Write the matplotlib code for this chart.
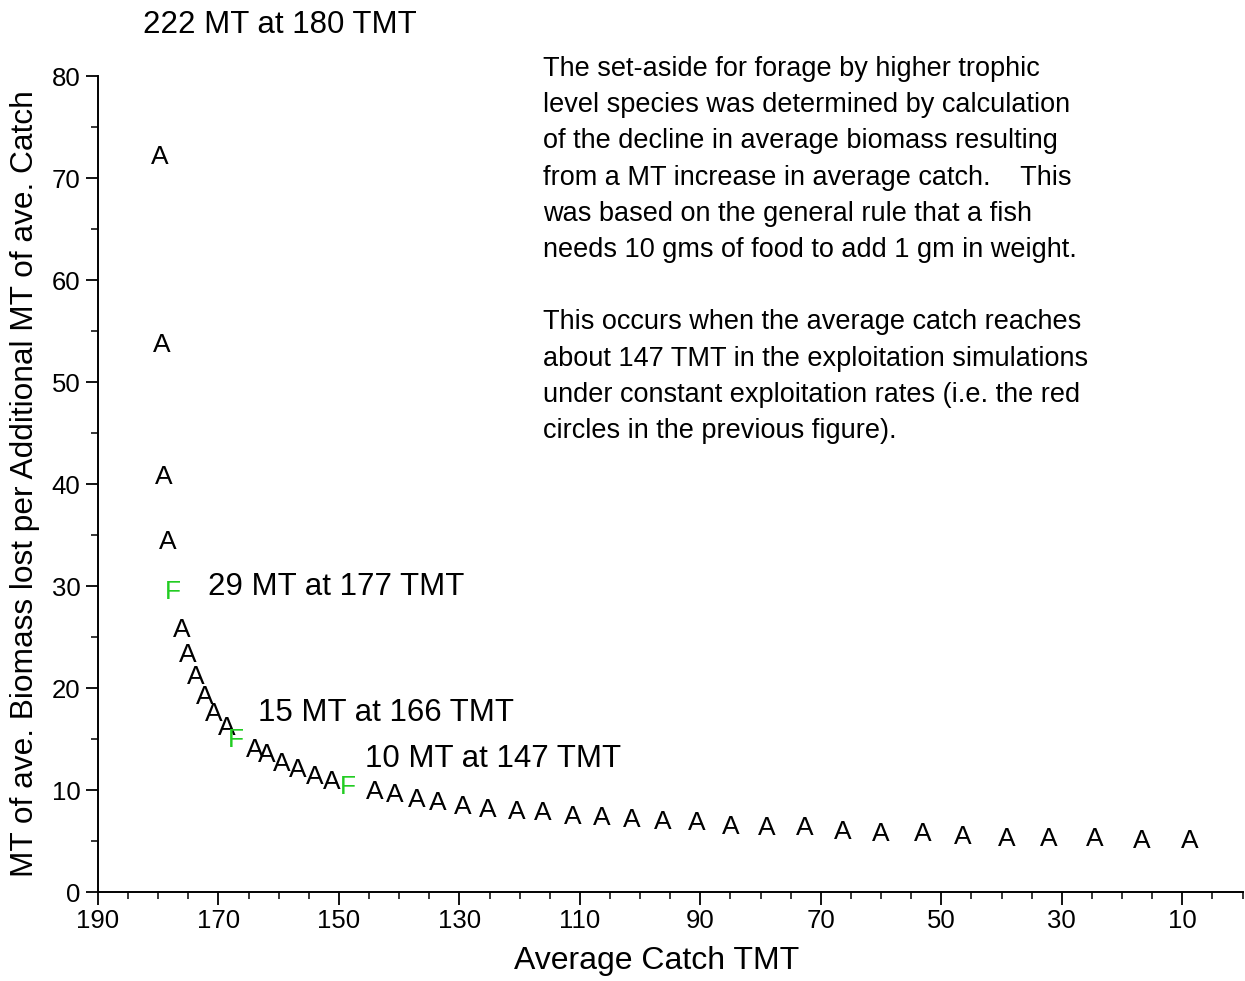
import matplotlib
matplotlib.use("Agg")
import matplotlib.pyplot as plt
from matplotlib.ticker import MultipleLocator

plt.rcParams["font.family"] = ["Liberation Sans", "DejaVu Sans"]

# --- DATA ---
# "A" points: average catch (TMT) vs biomass lost per additional MT of catch
catch_a = [179.7, 179.4, 179.05, 178.4,
           176.1, 175.1, 173.7, 172.2, 170.8, 168.6,
           164.0, 162.0, 159.5, 156.8, 154.0, 151.2,
           144.0, 140.7, 137.1, 133.6, 129.4, 125.3, 120.5, 116.2, 111.2,
           106.4, 101.4, 96.3, 90.6, 85.0, 78.9, 72.7, 66.4, 60.1, 53.1,
           46.5, 39.2, 32.1, 24.6, 16.8, 8.7]
lost_a = [72.1, 53.6, 40.7, 34.3,
          25.7, 23.2, 21.1, 19.1, 17.5, 16.1,
          13.9, 13.4, 12.6, 12.0, 11.3, 10.8,
          9.8, 9.5, 9.0, 8.7, 8.3, 8.0, 7.8, 7.75, 7.35,
          7.25, 7.05, 6.85, 6.75, 6.35, 6.25, 6.25, 5.9, 5.7, 5.7,
          5.4, 5.2, 5.2, 5.2, 5.0, 5.0]

# "F" points (highlighted levels)
catch_f = [177.6, 167.1, 148.5]
lost_f = [29.4, 14.9, 10.3]

notes = ["29 MT at 177 TMT", "15 MT at 166 TMT", "10 MT at 147 TMT"]
note_x = [171.7, 163.5, 145.7]
note_y = [29.9, 17.6, 13.0]

top_note = "222 MT at 180 TMT"

info_text = ("The set-aside for forage by higher trophic\n"
             "level species was determined by calculation\n"
             "of the decline in average biomass resulting\n"
             "from a MT increase in average catch.    This\n"
             "was based on the general rule that a fish\n"
             "needs 10 gms of food to add 1 gm in weight.\n"
             "\n"
             "This occurs when the average catch reaches\n"
             "about 147 TMT in the exploitation simulations\n"
             "under constant exploitation rates (i.e. the red\n"
             "circles in the previous figure).")

# --- PLOT ---
fig = plt.figure(figsize=(12.45, 9.81), dpi=100)
ax = fig.add_axes([0.0787, 0.0907, 0.9193, 0.8318])

ax.set_xlim(190, 0)
ax.set_ylim(0, 80)

for x, y in zip(catch_a, lost_a):
    ax.text(x, y, "A", fontsize=19, ha="center", va="center", color="black")
for x, y in zip(catch_f, lost_f):
    ax.text(x, y, "F", fontsize=19, ha="center", va="center", color="#22cc22")

for t, x, y in zip(notes, note_x, note_y):
    ax.text(x, y, t, fontsize=22.5, ha="left", va="center")

fig.text(0.115, 0.975, top_note, fontsize=22.5, ha="left", va="center")
fig.text(0.436, 0.943, info_text, fontsize=19.5, ha="left", va="top",
         linespacing=1.51)

ax.spines["top"].set_visible(False)
ax.spines["right"].set_visible(False)
ax.spines["left"].set_linewidth(1.4)
ax.spines["bottom"].set_linewidth(1.4)

ax.xaxis.set_major_locator(MultipleLocator(20))
ax.xaxis.set_minor_locator(MultipleLocator(5))
ax.yaxis.set_major_locator(MultipleLocator(10))
ax.yaxis.set_minor_locator(MultipleLocator(5))
ax.set_xticks(range(190, 0, -20))

ax.tick_params(which="major", length=9, width=1.3, labelsize=18.5, direction="out")
ax.tick_params(which="minor", length=5, width=1.1, direction="out")

ax.set_xlabel("Average Catch TMT", fontsize=23)
ax.set_ylabel("MT of ave. Biomass lost per Additional MT of ave. Catch",
              fontsize=22.8)
ax.xaxis.set_label_coords(0.488, -0.066)
ax.yaxis.set_label_coords(-0.051, 0.5)

plt.savefig("out.png", dpi=100)
